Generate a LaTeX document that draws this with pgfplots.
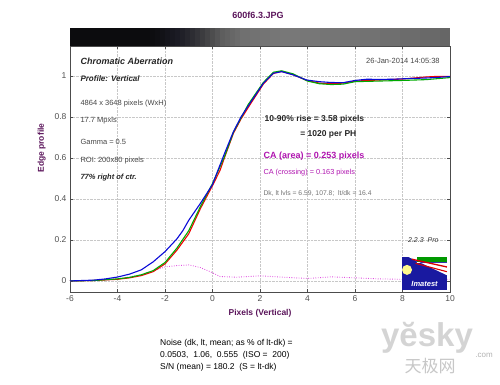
\documentclass[border=0pt]{standalone}
\usepackage{fontspec}
\setmainfont{Liberation Sans}
\newfontfamily\cjk{Noto Sans CJK SC}
\usepackage{pgfplots}
\pgfplotsset{compat=1.18}
\definecolor{ttl}{RGB}{90,20,90}
\definecolor{mag}{RGB}{175,20,175}
\definecolor{magdot}{RGB}{225,80,225}
\definecolor{cblue}{RGB}{10,10,215}
\definecolor{cgreen}{RGB}{0,170,0}
\definecolor{cred}{RGB}{240,0,0}
\definecolor{tickc}{RGB}{80,80,80}
\definecolor{gridc}{RGB}{200,200,200}
\definecolor{txtg}{RGB}{70,70,70}
\definecolor{logob}{RGB}{25,25,160}

\pgfplotstableread{
x y
-6 0.0
-5 0.004
-4.5 0.01
-4 0.019
-3.5 0.033
-3 0.054
-2.5 0.093
-2 0.143
-1.5 0.205
-1.25 0.245
-1 0.296
-0.5 0.38
0 0.47
0.18 0.525
0.5 0.62
0.88 0.728
1.2 0.80
1.58 0.867
2.14 0.964
2.56 1.013
2.91 1.021
3.4 1.005
3.97 0.98
4.5 0.972
5 0.968
5.5 0.967
6 0.978
6.5 0.984
7 0.983
7.6 0.984
8 0.986
8.5 0.988
9 0.990
9.5 0.993
10 0.997
}\blue

\pgfplotstableread{
x y
-6 0.0
-5 0.002
-4 0.008
-3.5 0.015
-3 0.026
-2.5 0.045
-2 0.083
-1.5 0.15
-1 0.23
-0.5 0.355
0 0.465
0.32 0.54
0.5 0.60
0.88 0.72
1.2 0.79
1.58 0.86
2.14 0.96
2.56 1.012
2.91 1.022
3.4 1.006
3.97 0.978
4.5 0.965
5 0.962
5.5 0.965
6 0.975
7 0.980
8 0.985
8.5 0.990
9 0.995
9.5 0.998
10 0.997
}\red

\pgfplotstableread{
x y
-6 0.0
-5 0.002
-4 0.010
-3.5 0.017
-3 0.030
-2.5 0.050
-2 0.090
-1.5 0.160
-1 0.245
-0.5 0.365
0 0.475
0.5 0.605
0.88 0.725
1.2 0.795
1.5 0.86
2.14 0.968
2.56 1.018
2.91 1.025
3.4 1.010
4 0.975
4.5 0.962
5 0.958
5.5 0.960
6 0.972
7 0.975
8 0.978
9 0.982
10 0.992
}\green

\pgfplotstableread{
x y
-6 0.0
-5 0.002
-4 0.010
-3 0.030
-2.5 0.050
-2 0.068
-1.5 0.075
-1 0.078
-0.5 0.065
0 0.040
0.3 0.022
1 0.018
2 0.025
3 0.018
4 0.012
5 0.020
6 0.015
7 0.010
8 0.008
9 0.008
10 0.008
}\diffc

\begin{document}
\begin{tikzpicture}
\useasboundingbox (0,0) rectangle (500pt,384pt);
% edge image bar above the plot (x = 70..450 pt, y = 338..356 pt)
\foreach \a/\b/\c/\d in {70/150/12/14, 150/155/13/16, 155/160/15/19, 160/165/18/23,
  165/170/21/28, 170/175/24/32, 175/180/27/36, 180/185/32/40, 185/190/38/45,
  190/195/45/51, 195/200/52/57, 200/205/60/63, 205/210/68/70, 210/215/77/78,
  215/220/85/86, 220/225/94/94, 225/230/98/98, 230/235/103/103, 235/240/107/107,
  240/250/112/112, 250/260/114/114, 260/270/116/116, 270/280/118/118,
  280/300/120/120, 300/320/119/119, 320/340/117/117, 340/360/116/116,
  360/380/114/114, 380/400/111/111, 400/420/108/108, 420/440/105/105, 440/450/102/102}{
  \definecolor{bc}{RGB}{\c,\c,\d}
  \fill[bc] (\a pt,338pt) rectangle ({min(\b+0.4,450)*1pt},356pt);
}
\begin{axis}[
  at={(70pt,92pt)}, anchor=south west,
  width=380pt, height=246pt, scale only axis,
  xmin=-6, xmax=10, ymin=-0.054, ymax=1.146,
  xtick={-6,-4,...,10}, ytick={0,0.2,0.4,0.6,0.8,1},
  tick align=inside, major tick length=3pt,
  grid=major, grid style={gridc, densely dotted, line width=0.4pt},
  axis line style={black!70, line width=0.6pt},
  tick style={black!70, line width=0.5pt},
  ticklabel style={font=\fontsize{8.5}{10}\selectfont, text=tickc},
  /pgf/number format/assume math mode=true,
  xlabel={Pixels (Vertical)}, ylabel={Edge profile},
  label style={font=\bfseries\fontsize{8.5}{10}\selectfont, text=ttl},
  x label style={at={(rel axis cs:0.5,-0.085)}, anchor=center},
  y label style={at={(rel axis cs:-0.0745,0.585)}, anchor=center},
  clip=false,
]
\addplot[magdot, line width=0.9pt, dash pattern=on 0.8pt off 1.6pt] table {\diffc};
\addplot[cred, line width=1.1pt] table {\red};
\addplot[cgreen, line width=1.1pt] table {\green};
\addplot[cblue, line width=1.1pt] table {\blue};

\node[anchor=west, font=\bfseries\itshape\fontsize{9}{10}\selectfont, text=black!85] at (rel axis cs:0.0184,0.939) {Chromatic Aberration};
\node[anchor=west, font=\bfseries\itshape\fontsize{8}{10}\selectfont, text=black!85] at (rel axis cs:0.0184,0.866) {Profile: Vertical};
\node[anchor=east, font=\fontsize{7.5}{9}\selectfont, text=txtg] at (rel axis cs:0.982,0.939) {26-Jan-2014 14:05:38};
\node[anchor=west, font=\fontsize{7.5}{9}\selectfont, text=txtg] at (rel axis cs:0.0184,0.768) {4864 x 3648 pixels (WxH)};
\node[anchor=west, font=\fontsize{7.5}{9}\selectfont, text=txtg] at (rel axis cs:0.0184,0.695) {17.7 Mpxls};
\node[anchor=west, font=\fontsize{7.5}{9}\selectfont, text=txtg] at (rel axis cs:0.0184,0.610) {Gamma = 0.5};
\node[anchor=west, font=\fontsize{7.5}{9}\selectfont, text=txtg] at (rel axis cs:0.0184,0.533) {ROI: 200x80 pixels};
\node[anchor=west, font=\bfseries\itshape\fontsize{7.5}{9}\selectfont, text=black!85] at (rel axis cs:0.0184,0.467) {77\% right of ctr.};

\node[anchor=west, font=\bfseries\fontsize{8.5}{10}\selectfont, text=black!85] at (rel axis cs:0.503,0.703) {10-90\% rise = 3.58 pixels};
\node[anchor=west, font=\bfseries\fontsize{8.5}{10}\selectfont, text=black!85] at (rel axis cs:0.597,0.642) {= 1020 per PH};
\node[anchor=west, font=\bfseries\fontsize{9}{10}\selectfont, text=mag] at (rel axis cs:0.5,0.553) {CA (area) = 0.253 pixels};
\node[anchor=west, font=\fontsize{7.3}{9}\selectfont, text=mag] at (rel axis cs:0.5,0.484) {CA (crossing) = 0.163 pixels};
\node[anchor=west, font=\fontsize{6.8}{9}\selectfont, text=black!55] at (rel axis cs:0.5,0.402) {Dk, lt lvls = 6.59, 107.8;\ \ lt/dk = 16.4};
\node[anchor=east, font=\itshape\fontsize{7}{9}\selectfont, text=black!80] at (rel axis cs:0.979,0.211) {2.2.3\ \ Pro};

% Imatest logo
\fill[logob] (axis cs:7.98,-0.044) rectangle (axis cs:9.87,0.117);
\fill[white] (axis cs:8.25,0.117) -- (axis cs:8.61,0.117) -- (axis cs:8.61,0.088) -- (axis cs:9.87,0.088) -- (axis cs:9.87,0.028) -- cycle;
\fill[green!60!black] (axis cs:8.61,0.117) rectangle (axis cs:9.87,0.090);
\draw[red!85!black, line width=1.3pt] (axis cs:8.4,0.106) -- (axis cs:9.87,0.068);
\draw[red!85!black, line width=1.1pt] (axis cs:8.55,0.086) -- (axis cs:9.87,0.045);
\fill[yellow!45!white] (axis cs:8.19,0.054) circle (5pt);
\node[font=\bfseries\itshape\fontsize{7.5}{9}\selectfont, text=white] at (axis cs:8.93,-0.014) {Imatest};
\end{axis}

\node[font=\bfseries\fontsize{9}{10}\selectfont, text=ttl] at (258pt,369pt) {600f6.3.JPG};

\node[anchor=base west, font=\fontsize{8.5}{10}\selectfont, inner sep=0pt] at (160pt,39pt) {Noise (dk, lt, mean; as \% of lt-dk) =};
\node[anchor=base west, font=\fontsize{8.5}{10}\selectfont, inner sep=0pt] at (160pt,27pt) {0.0503,\ \ 1.06,\ \ 0.555\ \ (ISO =\ \ 200)};
\node[anchor=base west, font=\fontsize{8.5}{10}\selectfont, inner sep=0pt] at (160pt,15pt) {S/N (mean) = 180.2\ \ (S = lt-dk)};

% watermark
\node[anchor=base, font=\bfseries\fontsize{33}{36}\selectfont, text=black!17, inner sep=0pt] at (427pt,38pt) {yĕsky};
\node[font=\fontsize{8}{9}\selectfont, text=black!30, inner sep=0pt] at (484pt,29pt) {.com};
\node[font=\cjk\fontsize{17}{18}\selectfont, text=black!22, inner sep=0pt] at (430pt,18pt) {天极网};
\end{tikzpicture}
\end{document}
